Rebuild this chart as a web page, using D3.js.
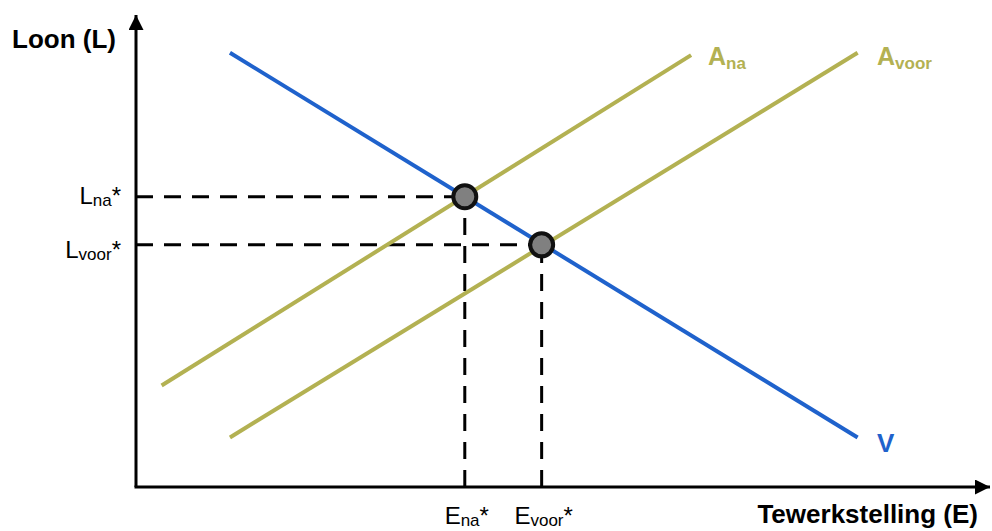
<!DOCTYPE html>
<html>
<head>
<meta charset="utf-8">
<script src="https://cdn.jsdelivr.net/npm/d3@7"></script>
<style>
  body { margin: 0; background: #fff; }
  text { font-family: "Liberation Sans", Arial, sans-serif; }
</style>
</head>
<body>
<script>
// curves: [x, y] in chart units (0..100)
const vraag = [[11, 92], [84.5, 10.5]]
const aanbodNa = [[3, 21.5], [65, 91.5]]
const aanbodVoor = [[11, 10.5], [84.5, 92]]
const evenwicht = [
  { name: "na", x: 38.5, y: 61.5 },
  { name: "voor", x: 47.5, y: 51.3 }
]

const w = 992
const h = 531
const blue = "#1f62cc"
const olive = "#b3b152"

const x = d3.scaleLinear().domain([0, 100]).range([136, 990])
const y = d3.scaleLinear().domain([0, 100]).range([487, 15])

const svg = d3.select("body").append("svg")
  .attr("width", w)
  .attr("height", h)

const defs = svg.append("defs")
defs.append("marker")
  .attr("id", "arrow")
  .attr("viewBox", "0 0 10 10")
  .attr("refX", 10).attr("refY", 5)
  .attr("markerWidth", 5).attr("markerHeight", 5)
  .attr("markerUnits", "strokeWidth")
  .attr("orient", "auto")
  .append("path")
  .attr("d", "M0,0 L10,5 L0,10 z")
  .attr("fill", "#000")

const line = d3.line().x(d => x(d[0])).y(d => y(d[1]))

// dashed guides
evenwicht.forEach(p => {
  svg.append("path")
    .attr("d", line([[0, p.y], [p.x, p.y]]))
    .attr("stroke", "#000").attr("stroke-width", 3)
    .attr("stroke-dasharray", "17,11")
    .attr("fill", "none")
  svg.append("path")
    .attr("d", line([[p.x, 0], [p.x, p.y]]))
    .attr("stroke", "#000").attr("stroke-width", 3)
    .attr("stroke-dasharray", "17,11")
    .attr("fill", "none")
})

// axes
svg.append("line")
  .attr("x1", x(0)).attr("y1", y(0))
  .attr("x2", x(0)).attr("y2", y(100))
  .attr("stroke", "#000").attr("stroke-width", 3)
  .attr("marker-end", "url(#arrow)")
svg.append("line")
  .attr("x1", x(0) - 1.5).attr("y1", y(0))
  .attr("x2", x(100)).attr("y2", y(0))
  .attr("stroke", "#000").attr("stroke-width", 3)
  .attr("marker-end", "url(#arrow)")

// curves
const curves = [
  { data: aanbodNa, color: olive },
  { data: aanbodVoor, color: olive },
  { data: vraag, color: blue }
]
svg.selectAll(".curve")
  .data(curves)
  .enter()
  .append("path")
  .attr("class", "curve")
  .attr("d", d => line(d.data))
  .attr("stroke", d => d.color)
  .attr("stroke-width", 4)
  .attr("fill", "none")

// points
svg.selectAll(".eq")
  .data(evenwicht)
  .enter()
  .append("circle")
  .attr("class", "eq")
  .attr("cx", d => x(d.x))
  .attr("cy", d => y(d.y))
  .attr("r", 11.5)
  .attr("fill", "#808080")
  .attr("stroke", "#111")
  .attr("stroke-width", 4)

// axis titles
svg.append("text")
  .attr("x", 12).attr("y", 48)
  .attr("font-size", 26).attr("font-weight", "bold")
  .text("Loon (L)")
svg.append("text")
  .attr("x", 978).attr("y", 523)
  .attr("text-anchor", "end")
  .attr("font-size", 26).attr("font-weight", "bold")
  .text("Tewerkstelling (E)")

// labels with subscripts
function subLabel(tx, ty, main, sub, anchor, opts) {
  const t = svg.append("text")
    .attr("x", tx).attr("y", ty)
    .attr("text-anchor", anchor)
    .attr("font-size", opts.size)
    .attr("font-weight", opts.weight || "normal")
    .attr("fill", opts.color || "#000")
  t.append("tspan").text(main)
  t.append("tspan").attr("font-size", opts.sub).attr("dy", opts.dy).text(sub)
  if (opts.star) t.append("tspan").attr("dy", -opts.dy).text("*")
  return t
}

const lBase = { na: 204, voor: 258 }
evenwicht.forEach(p => {
  subLabel(x(0) - 15, lBase[p.name], "L", p.name, "end", { size: 24, sub: 17, dy: 2, star: true })
  subLabel(x(p.x) + 2, 524, "E", p.name, "middle", { size: 24, sub: 17, dy: 2, star: true })
})

subLabel(708, 65, "A", "na", "start", { size: 25, sub: 17, dy: 4, weight: "bold", color: olive })
subLabel(877, 65, "A", "voor", "start", { size: 25, sub: 17, dy: 4, weight: "bold", color: olive })
svg.append("text")
  .attr("x", 877).attr("y", 452)
  .attr("font-size", 26).attr("font-weight", "bold")
  .attr("fill", blue)
  .text("V")
</script>
</body>
</html>
